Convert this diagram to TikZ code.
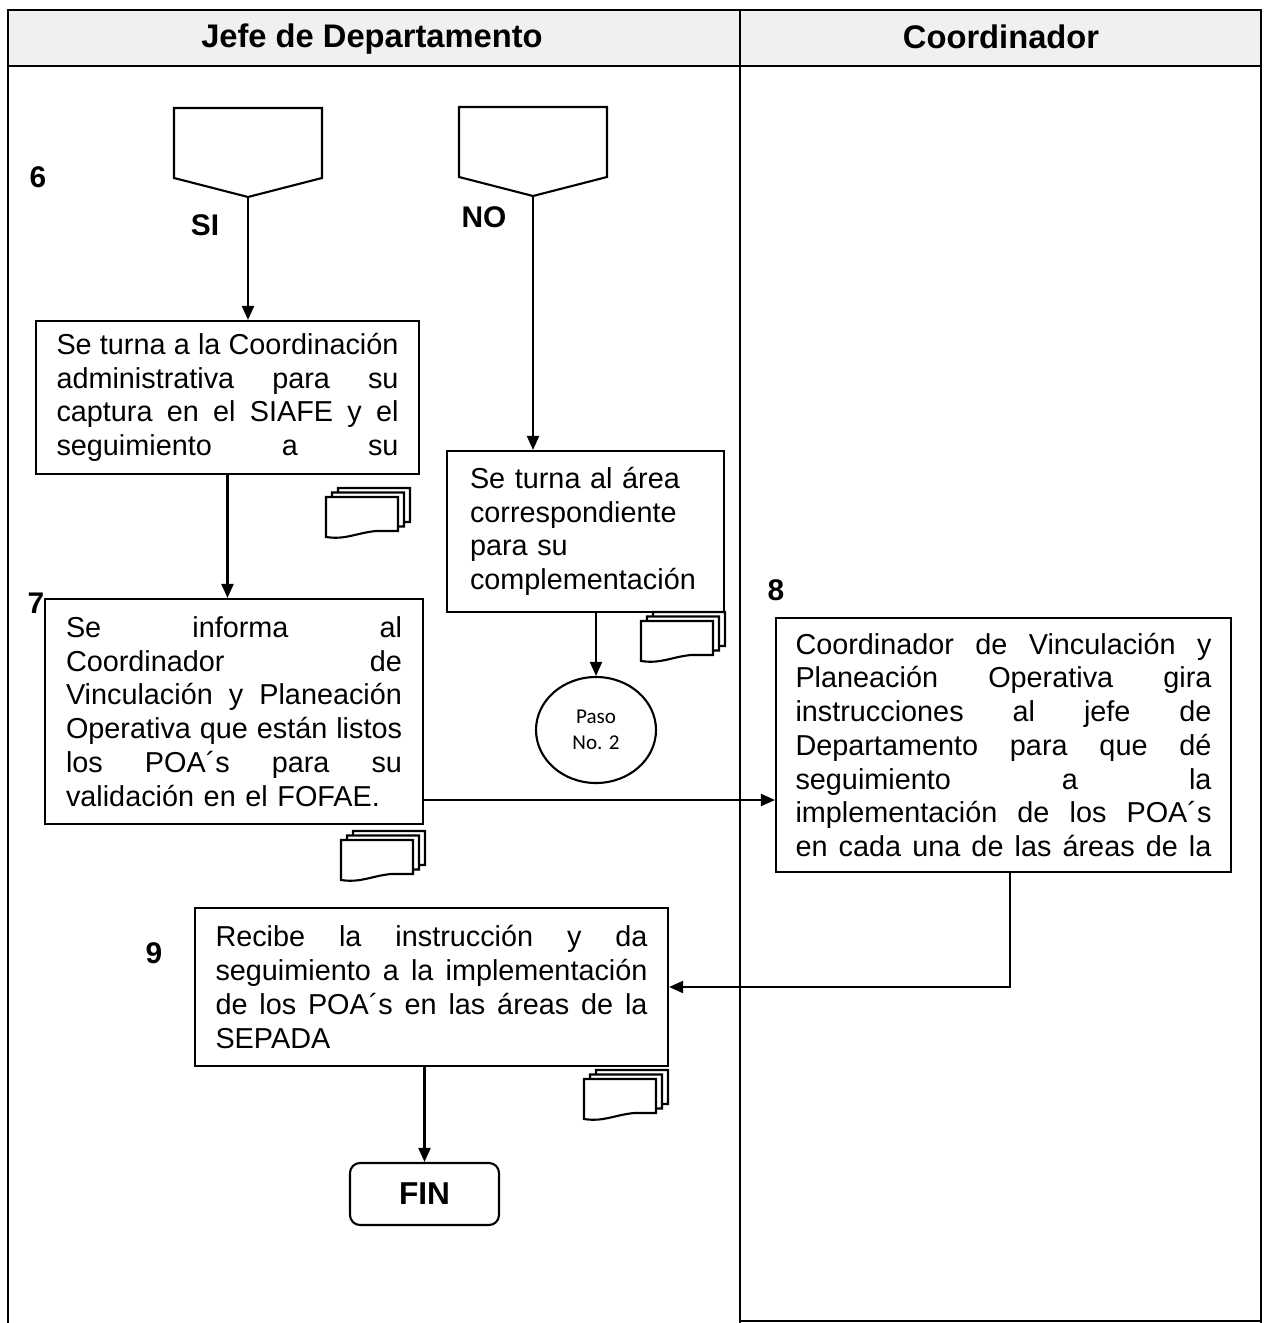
\documentclass[tikz,border=0pt]{standalone}
\usepackage{fontspec}
\setmainfont{Liberation Sans}
\newfontfamily\calibri{Carlito}
\usetikzlibrary{arrows.meta, positioning, shapes.geometric}
\newcommand{\jl}[1]{\makebox[\hsize][s]{\spaceskip=0pt\xspaceskip=0pt\relax #1}}

\begin{document}
\begin{tikzpicture}[
    line/.style={draw, line width=0.6pt},
    frame/.style={draw, line width=0.8pt},
    proc/.style={rectangle, line, inner sep=0pt, align=left, font=\fontsize{8.2}{9.6}\selectfont},
    num/.style={font=\bfseries\fontsize{8.5}{10}\selectfont},
    lane/.style={font=\bfseries\fontsize{9.3}{11}\selectfont},
    arr/.style={-{Triangle[length=0.14cm, width=0.12cm]}, line width=0.6pt},
    offpage/.pic={\draw[line] (0,0) -- (-0.74,0.19) -- (-0.74,0.89) -- (0.74,0.89) -- (0.74,0.19) -- cycle;},
    docs/.pic={
        \foreach \d in {2,1,0}
            \draw[line, fill=white, shift={({0.06*\d},{0.045*\d})}] (0,0) -- (0.72,0) -- (0.72,-0.34) -- (0.5,-0.34)
                .. controls (0.3,-0.36) and (0.2,-0.43) .. (0,-0.40) -- cycle;
    },
]
    \useasboundingbox (0,0) rectangle (12.64,-13.23);

    % Lanes
    \fill[gray!12] (0.08,-0.10) rectangle (12.61,-0.66);
    \draw[frame] (0.08,-13.23) -- (0.08,-0.10) -- (12.61,-0.10) -- (12.61,-13.23);
    \draw[frame] (0.08,-0.66) -- (12.61,-0.66);
    \draw[frame] (7.40,-0.10) -- (7.40,-13.23);
    \draw[frame] (7.40,-13.21) -- (12.61,-13.21);
    \node[lane] (jefe) at (3.72,-0.39) {Jefe de Departamento};
    \node[lane] (coord) at (10.01,-0.37) {Coordinador};

    % Off-page connectors
    \coordinate (si) at (2.48,-1.97);
    \coordinate (no) at (5.33,-1.96);
    \pic at (si) {offpage};
    \pic at (no) {offpage};
    \node[num] (n6) at (0.38,-1.77) {6};
    \node[num] (lsi) at (2.05,-2.25) {SI};
    \node[num] (lno) at (4.84,-2.17) {NO};

    % Steps
    \node[proc, minimum width=3.83cm, minimum height=1.53cm, text width=3.42cm] (captura) at (2.275,-3.975)
        {\jl{Se turna a la Coordinación}\\\jl{administrativa para su}\\\jl{captura en el SIAFE y el}\\\jl{seguimiento a su}};
    \node[proc, minimum width=2.77cm, minimum height=1.61cm, text width=2.31cm] (area) at (5.855,-5.315)
        {Se turna al área\\correspondiente\\para su\\complementación};
    \node[ellipse, line, minimum width=1.20cm, minimum height=1.06cm, inner sep=0pt, align=center,
        font=\calibri\fontsize{6}{7.4}\selectfont] (paso) at (5.96,-7.30) {Paso\\No. 2};
    \node[num] (n7) at (0.36,-6.03) {7};
    \node[proc, minimum width=3.78cm, minimum height=2.25cm, text width=3.36cm] (informa) at (2.34,-7.115)
        {\jl{Se informa al}\\\jl{Coordinador de}\\\jl{Vinculación y Planeación}\\\jl{Operativa que están listos}\\\jl{los POA´s para su}\\validación en el FOFAE.};
    \node[num] (n8) at (7.76,-5.90) {8};
    \node[proc, minimum width=4.55cm, minimum height=2.54cm, text width=4.16cm] (gira) at (10.035,-7.45)
        {\jl{Coordinador de Vinculación y}\\\jl{Planeación Operativa gira}\\\jl{instrucciones al jefe de}\\\jl{Departamento para que dé}\\\jl{seguimiento a la}\\\jl{implementación de los POA´s}\\\jl{en cada una de las áreas de la}};
    \node[num] (n9) at (1.54,-9.53) {9};
    \node[proc, minimum width=4.73cm, minimum height=1.58cm, text width=4.32cm] (recibe) at (4.315,-9.87)
        {\jl{Recibe la instrucción y da}\\\jl{seguimiento a la implementación}\\\jl{de los POA´s en las áreas de la}\\SEPADA};
    \node[rectangle, line, rounded corners=0.1cm, minimum width=1.49cm, minimum height=0.62cm,
        font=\bfseries\fontsize{9}{10}\selectfont] (fin) at (4.245,-11.94) {FIN};

    % Documents
    \pic at (3.26,-4.97) {docs};
    \pic at (3.41,-8.40) {docs};
    \pic at (6.41,-6.21) {docs};
    \pic at (5.84,-10.79) {docs};

    % Arrows
    \coordinate (c7) at ([yshift=-0.885cm]informa.east);
    \coordinate (c8) at ([xshift=0.065cm]gira.south);
    \draw[arr] (si) -- (si |- captura.north);
    \draw[arr] (captura.south) -- (captura.south |- informa.north);
    \draw[arr] (no) -- (no |- area.north);
    \draw[arr] (paso |- area.south) -- (paso.north);
    \draw[arr] (c7) -- (c7 -| gira.west);
    \draw[arr] (c8) |- (recibe.east);
    \draw[arr] (fin |- recibe.south) -- (fin.north);
\end{tikzpicture}
\end{document}
